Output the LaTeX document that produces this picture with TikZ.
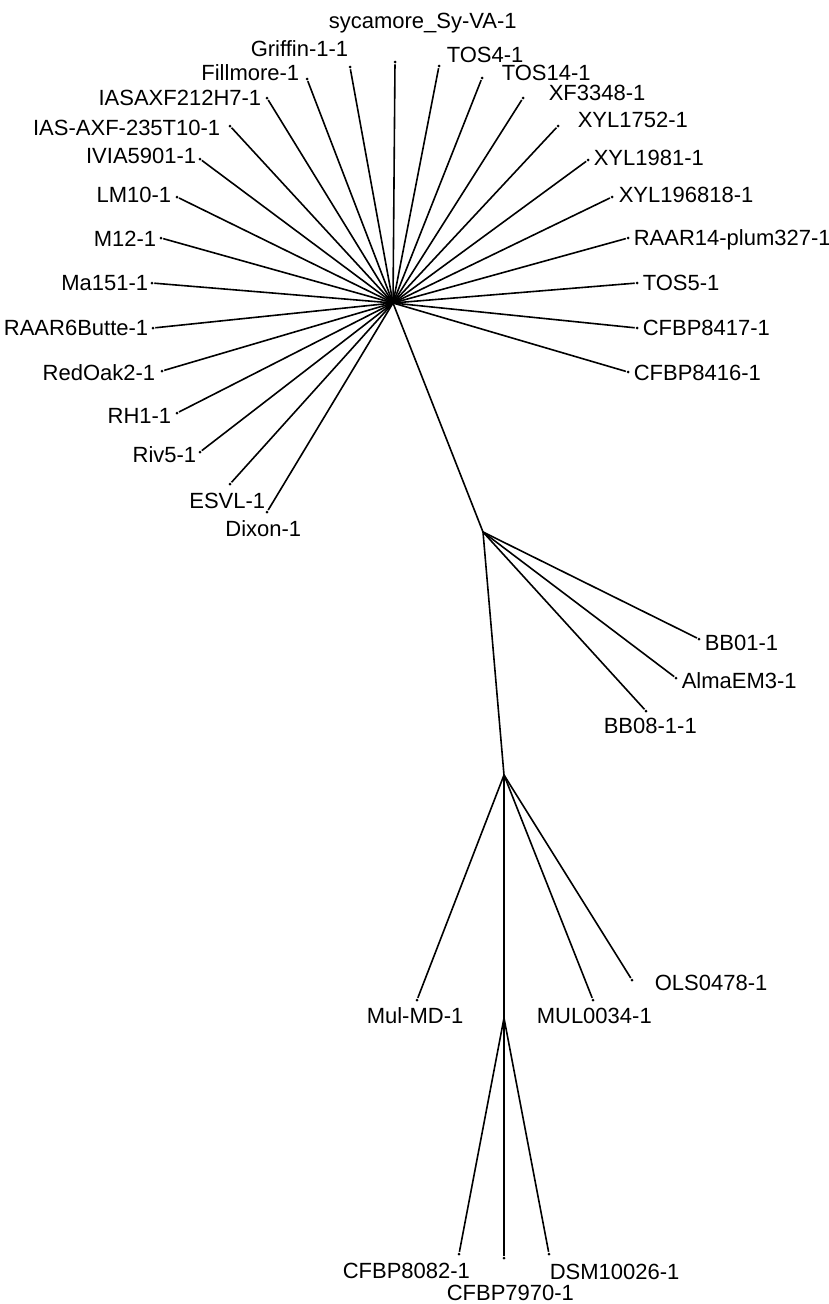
\documentclass[tikz,border=0pt]{standalone}
\usepackage{fontspec}
\setmainfont{Liberation Sans}
\usetikzlibrary{positioning}

\begin{document}
\begin{tikzpicture}[x=1pt,y=-1pt,line width=1.6pt,
  leaf/.style={circle,fill=black,inner sep=0pt,minimum size=3pt},
  lbl/.style={inner sep=0pt,font=\fontsize{22}{26}\selectfont}]
\useasboundingbox (0,0) rectangle (829,1304);
%inner nodes
\coordinate (hub) at (393,303);
\coordinate (n2) at (483,532);
\coordinate (n3) at (504,775);
\coordinate (n4) at (504,1018);
%backbone
\draw (hub)--(n2)--(n3)--(n4);
%star, left side
\node[leaf] (griffin) at (350,67) {};
\node[leaf] (fillmore) at (307,79) {};
\node[leaf] (ias212) at (267,98) {};
\node[leaf] (ias235) at (230,126) {};
\node[leaf] (ivia) at (200,159) {};
\node[leaf] (lm10) at (177,197) {};
\node[leaf] (m12) at (161,238) {};
\node[leaf] (ma151) at (152,283) {};
\node[leaf] (raar6) at (153,328) {};
\node[leaf] (redoak) at (162,371) {};
\node[leaf] (rh1) at (177,413) {};
\node[leaf] (riv5) at (200,452) {};
\node[leaf] (esvl) at (230,484) {};
\node[leaf] (dixon) at (267,512) {};
%star, right side
\node[leaf] (syc) at (395,62) {};
\node[leaf] (tos4) at (439,66) {};
\node[leaf] (tos14) at (482,78) {};
\node[leaf] (xf3348) at (523,98) {};
\node[leaf] (xyl1752) at (558,126) {};
\node[leaf] (xyl1981) at (588,160) {};
\node[leaf] (xyl196818) at (612,197) {};
\node[leaf] (raar14) at (628,238) {};
\node[leaf] (tos5) at (637,283) {};
\node[leaf] (cfbp8417) at (637,328) {};
\node[leaf] (cfbp8416) at (628,372) {};
%second clade
\node[leaf] (bb01) at (699,639) {};
\node[leaf] (almaem3) at (676,678) {};
\node[leaf] (bb08) at (646,711) {};
%third clade
\node[leaf] (mulmd) at (417,1000) {};
\node[leaf] (mul0034) at (593,1000) {};
\node[leaf] (ols0478) at (632,980) {};
%fourth clade
\node[leaf] (cfbp8082) at (459,1254) {};
\node[leaf] (cfbp7970) at (504,1258) {};
\node[leaf] (dsm10026) at (549,1254) {};
%branches
\draw (hub)--(griffin);
\draw (hub)--(fillmore);
\draw (hub)--(ias212);
\draw (hub)--(ias235);
\draw (hub)--(ivia);
\draw (hub)--(lm10);
\draw (hub)--(m12);
\draw (hub)--(ma151);
\draw (hub)--(raar6);
\draw (hub)--(redoak);
\draw (hub)--(rh1);
\draw (hub)--(riv5);
\draw (hub)--(esvl);
\draw (hub)--(dixon);
\draw (hub)--(syc);
\draw (hub)--(tos4);
\draw (hub)--(tos14);
\draw (hub)--(xf3348);
\draw (hub)--(xyl1752);
\draw (hub)--(xyl1981);
\draw (hub)--(xyl196818);
\draw (hub)--(raar14);
\draw (hub)--(tos5);
\draw (hub)--(cfbp8417);
\draw (hub)--(cfbp8416);
\draw (n2)--(bb01);
\draw (n2)--(almaem3);
\draw (n2)--(bb08);
\draw (n3)--(mulmd);
\draw (n3)--(mul0034);
\draw (n3)--(ols0478);
\draw (n4)--(cfbp8082);
\draw (n4)--(cfbp7970);
\draw (n4)--(dsm10026);
%labels, left
\node[lbl,anchor=base east] (griffin-l) at (349,56) {Griffin-1-1};
\node[lbl,anchor=base east] (fillmore-l) at (300,80) {Fillmore-1};
\node[lbl,anchor=base east] (ias212-l) at (262,105) {IASAXF212H7-1};
\node[lbl,anchor=base east] (ias235-l) at (221,135) {IAS-AXF-235T10-1};
\node[lbl,anchor=base east] (ivia-l) at (197,163) {IVIA5901-1};
\node[lbl,anchor=base east] (lm10-l) at (172,202) {LM10-1};
\node[lbl,anchor=base east] (m12-l) at (157,246) {M12-1};
\node[lbl,anchor=base east] (ma151-l) at (149,290) {Ma151-1};
\node[lbl,anchor=base east] (raar6-l) at (149,335) {RAAR6Butte-1};
\node[lbl,anchor=base east] (redoak-l) at (156,380) {RedOak2-1};
\node[lbl,anchor=base east] (rh1-l) at (172,423) {RH1-1};
\node[lbl,anchor=base east] (riv5-l) at (197,462) {Riv5-1};
\node[lbl,anchor=base east] (esvl-l) at (266,508) {ESVL-1};
\node[lbl,anchor=base east] (dixon-l) at (302,536) {Dixon-1};
%labels, right
\node[lbl,anchor=base west] (syc-l) at (328,28) {sycamore\_Sy-VA-1};
\node[lbl,anchor=base west] (tos4-l) at (446,62) {TOS4-1};
\node[lbl,anchor=base west] (tos14-l) at (501,80) {TOS14-1};
\node[lbl,anchor=base west] (xf3348-l) at (548,100) {XF3348-1};
\node[lbl,anchor=base west] (xyl1752-l) at (577,127) {XYL1752-1};
\node[lbl,anchor=base west] (xyl1981-l) at (593,165) {XYL1981-1};
\node[lbl,anchor=base west] (xyl196818-l) at (618,202) {XYL196818-1};
\node[lbl,anchor=base west] (raar14-l) at (633,245) {RAAR14-plum327-1};
\node[lbl,anchor=base west] (tos5-l) at (642,290) {TOS5-1};
\node[lbl,anchor=base west] (cfbp8417-l) at (642,335) {CFBP8417-1};
\node[lbl,anchor=base west] (cfbp8416-l) at (633,380) {CFBP8416-1};
\node[lbl,anchor=base west] (bb01-l) at (704,650) {BB01-1};
\node[lbl,anchor=base west] (almaem3-l) at (681,688) {AlmaEM3-1};
\node[lbl,anchor=base west] (bb08-l) at (603,733) {BB08-1-1};
\node[lbl,anchor=base west] (ols0478-l) at (654,990) {OLS0478-1};
\node[lbl,anchor=base west] (mulmd-l) at (366,1023) {Mul-MD-1};
\node[lbl,anchor=base west] (mul0034-l) at (536,1023) {MUL0034-1};
\node[lbl,anchor=base west] (cfbp8082-l) at (342,1278) {CFBP8082-1};
\node[lbl,anchor=base west] (cfbp7970-l) at (446,1300) {CFBP7970-1};
\node[lbl,anchor=base west] (dsm10026-l) at (549,1279) {DSM10026-1};
\end{tikzpicture}
\end{document}
